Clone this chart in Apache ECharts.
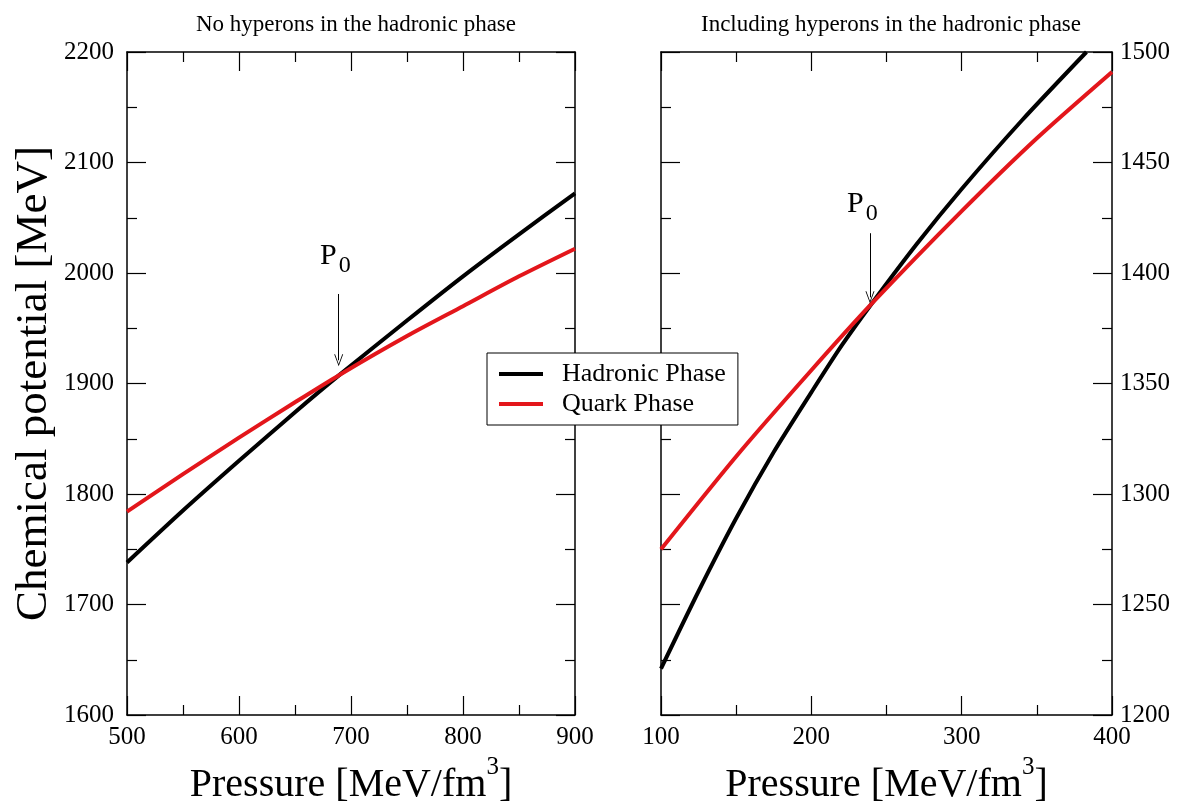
<!DOCTYPE html>
<html>
<head>
<meta charset="utf-8">
<script src="https://cdn.jsdelivr.net/npm/echarts@6/dist/echarts.min.js"></script>
<style>
  html, body { margin: 0; padding: 0; background: #fff; }
  #chart { width: 1184px; height: 810px; }
</style>
</head>
<body>
<div id="chart"></div>
<script>
// Panel titles
const panelTitles = ["No hyperons in the hadronic phase", "Including hyperons in the hadronic phase"];
const seriesNames = ["Hadronic Phase", "Quark Phase"];

// Left panel: no hyperons
const leftPressure = [500, 550, 600, 650, 690, 750, 800, 850, 900];
const leftHadronic = [1738, 1785, 1830, 1874, 1908, 1957, 1997, 2035, 2072];
const leftQuark = [1784, 1818, 1851, 1883, 1908, 1943, 1970, 1997, 2022];

// Right panel: including hyperons
const rightPressureHad = [100, 125, 150, 175, 200, 220, 240, 270, 300, 340, 383];
const rightHadronic = [1221, 1256, 1289, 1319, 1346, 1367, 1386, 1413, 1438, 1469, 1500];
const rightPressureQuark = [100, 150, 200, 240, 300, 350, 400];
const rightQuark = [1275, 1317, 1356, 1386, 1428, 1461, 1491];

// P0 arrows (x, top, bottom) and label positions (x, y)
const leftP0 = [689, 1981, 1921];
const rightP0 = [239, 1418, 1389];
const leftP0Label = [686, 2015];
const rightP0Label = [234, 1431];

const FONT = "Liberation Serif";
const RED = "#e3161b";

const zip = (xs, ys) => xs.map((x, i) => [x, ys[i]]);

function xAx(grid, pos, min, max, showLabel, name) {
  return {
    type: "value", gridIndex: grid, position: pos, min: min, max: max, interval: 100,
    name: name || "", nameLocation: "middle", nameGap: 40,
    nameTextStyle: {
      rich: {
        m: { fontFamily: FONT, fontSize: 40, color: "#000", lineHeight: 60 },
        sup: { fontFamily: FONT, fontSize: 25, color: "#000", lineHeight: 26, verticalAlign: "top" }
      }
    },
    axisLine: { show: true, onZero: false, lineStyle: { color: "#000", width: 1.5 } },
    axisTick: { show: true, inside: true, length: 19, lineStyle: { color: "#000", width: 1.2 } },
    minorTick: { show: true, splitNumber: 2, length: 10, lineStyle: { color: "#000", width: 1.2 } },
    axisLabel: { show: showLabel, fontFamily: FONT, fontSize: 25, color: "#000", margin: 10,
      formatter: (v) => String(v) },
    splitLine: { show: false }
  };
}

function yAx(grid, pos, min, max, interval, showLabel, name, margin) {
  return {
    type: "value", gridIndex: grid, position: pos, min: min, max: max, interval: interval,
    name: name || "", nameLocation: "middle", nameGap: 70,
    nameTextStyle: { fontFamily: FONT, fontSize: 45, color: "#000" },
    axisLine: { show: true, onZero: false, lineStyle: { color: "#000", width: 1.5 } },
    axisTick: { show: true, inside: true, length: 19, lineStyle: { color: "#000", width: 1.2 } },
    minorTick: { show: true, splitNumber: 2, length: 10, lineStyle: { color: "#000", width: 1.2 } },
    axisLabel: { show: showLabel, fontFamily: FONT, fontSize: 25, color: "#000", margin: margin || 12,
      formatter: (v) => String(v) },
    splitLine: { show: false }
  };
}

const arrowHead = "path://M0,10 L5,0 L10,10 L9,10 L5,2 L1,10 Z";

function p0Mark(p) {
  return {
    silent: true,
    symbol: ["none", arrowHead],
    symbolSize: [9, 12],
    lineStyle: { color: "#000", width: 1, type: "solid" },
    label: { show: false },
    data: [[{ coord: [p[0], p[1]] }, { coord: [p[0], p[2]] }]]
  };
}

function p0Label(pt) {
  return {
    silent: true,
    symbol: "circle",
    symbolSize: 0,
    label: {
      show: true, position: "inside", formatter: "{p|P}{s|0}",
      rich: {
        p: { fontFamily: FONT, fontSize: 30, color: "#000" },
        s: { fontFamily: FONT, fontSize: 24, color: "#000", padding: [18, 0, 0, 2] }
      }
    },
    data: [{ coord: pt }]
  };
}

function lineSeries(name, color, xi, yi, data, extra) {
  return Object.assign({
    name: name, type: "line", xAxisIndex: xi, yAxisIndex: yi,
    data: data, showSymbol: false, smooth: 0.25,
    lineStyle: { color: color, width: 4 },
    itemStyle: { color: color },
    z: 3
  }, extra || {});
}

const chart = echarts.init(document.getElementById("chart"));

const titleStyle = { fontFamily: FONT, fontSize: 23, fontWeight: "normal", color: "#000" };
const pressureName = "{m|Pressure [MeV/fm}{sup|3}{m|]}";

const option = {
  backgroundColor: "#fff",
  animation: false,
  title: [
    { text: panelTitles[0], left: 351, top: 8, textAlign: "center", textStyle: titleStyle },
    { text: panelTitles[1], left: 886, top: 8, textAlign: "center", textStyle: titleStyle }
  ],
  legend: {
    data: seriesNames,
    orient: "vertical",
    left: 487, top: 353,
    backgroundColor: "#fff",
    borderColor: "#000", borderWidth: 1,
    padding: [8, 12, 8, 12],
    itemGap: 4,
    itemWidth: 44, itemHeight: 4,
    icon: "rect",
    selectedMode: false,
    textStyle: { fontFamily: FONT, fontSize: 26, color: "#000", padding: [0, 0, 0, 14] },
    z: 10
  },
  grid: [
    { left: 127, right: 609, top: 52, bottom: 92 },
    { left: 661, right: 72, top: 52, bottom: 92 }
  ],
  xAxis: [
    xAx(0, "bottom", 500, 900, true, pressureName),
    xAx(0, "top", 500, 900, false),
    xAx(1, "bottom", 100, 400, true, pressureName),
    xAx(1, "top", 100, 400, false)
  ],
  yAxis: [
    yAx(0, "left", 1600, 2200, 100, true, "Chemical potential [MeV]", 13),
    yAx(0, "right", 1600, 2200, 100, false),
    yAx(1, "left", 1200, 1500, 50, false),
    yAx(1, "right", 1200, 1500, 50, true, "", 8)
  ],
  series: [
    lineSeries(seriesNames[0], "#000", 0, 0, zip(leftPressure, leftHadronic), {
      markLine: p0Mark(leftP0), markPoint: p0Label(leftP0Label)
    }),
    lineSeries(seriesNames[1], RED, 0, 0, zip(leftPressure, leftQuark)),
    lineSeries(seriesNames[0], "#000", 2, 3, zip(rightPressureHad, rightHadronic), {
      markLine: p0Mark(rightP0), markPoint: p0Label(rightP0Label)
    }),
    lineSeries(seriesNames[1], RED, 2, 3, zip(rightPressureQuark, rightQuark))
  ]
};

chart.setOption(option);
</script>
</body>
</html>
